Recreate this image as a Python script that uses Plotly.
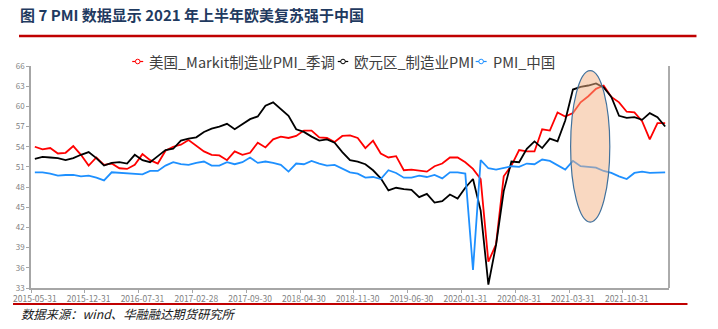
import calendar
import plotly.graph_objects as go

# ---------------- data ----------------
def month_ends(y, m, n):
    out = []
    for _ in range(n):
        out.append(f"{y:04d}-{m:02d}-{calendar.monthrange(y, m)[1]:02d}")
        m += 1
        if m > 12:
            m, y = 1, y + 1
    return out

dates = month_ends(2015, 5, 83)

us_markit = [54.0, 53.6, 53.8, 53.0, 53.1, 54.1, 52.8, 51.2,
             52.4, 51.3, 51.5, 50.8, 50.7, 51.3, 52.9, 52.0, 51.5, 53.4, 54.0, 54.3,
             55.0, 54.2, 53.3, 52.8, 52.7, 52.0, 53.3, 52.8, 53.1, 54.6, 53.9, 55.1,
             55.5, 55.3, 55.6, 56.4, 56.4, 55.4, 55.3, 54.7, 55.6, 55.7, 55.3, 53.8,
             54.9, 53.0, 52.4, 52.6, 50.5, 50.6, 50.4, 50.3, 51.1, 51.5, 52.4, 52.4,
             51.7, 50.7, 49.2, 36.9, 39.5, 49.6, 51.2, 53.5, 53.3, 53.3, 56.6, 56.4,
             59.1, 58.5, 59.0, 60.6, 61.5, 62.6, 63.1, 61.4, 60.6, 59.2, 59.1, 57.8,
             55.1, 57.5, 57.5]

ez_pmi = [52.2, 52.5, 52.4, 52.3, 52.0, 52.3, 52.8, 53.2,
          52.3, 51.2, 51.6, 51.7, 51.5, 52.8, 52.0, 51.7, 52.6, 53.5, 53.7, 54.9,
          55.2, 55.4, 56.2, 56.7, 57.0, 57.4, 56.6, 57.4, 58.1, 58.5, 60.1, 60.6,
          59.6, 58.6, 56.6, 56.2, 55.5, 54.9, 55.1, 54.6, 53.2, 52.0, 51.8, 51.4,
          50.5, 49.3, 47.5, 47.9, 47.7, 47.6, 46.5, 47.0, 45.7, 45.9, 46.9, 46.3,
          47.9, 49.2, 44.5, 33.5, 39.4, 47.4, 51.8, 51.7, 53.7, 54.8, 53.8, 55.2,
          54.8, 57.9, 62.5, 62.9, 63.1, 63.4, 62.8, 61.4, 58.6, 58.3, 58.4, 58.0,
          59.0, 58.4, 57.0]

cn_pmi = [50.2, 50.2, 50.0, 49.7, 49.8, 49.8, 49.6, 49.7,
          49.4, 49.0, 50.2, 50.1, 50.1, 50.0, 49.9, 50.4, 50.4, 51.2, 51.7, 51.4,
          51.3, 51.6, 51.8, 51.2, 51.2, 51.7, 51.4, 51.7, 52.4, 51.6, 51.8, 51.6,
          51.3, 50.3, 51.5, 51.4, 51.9, 51.5, 51.2, 51.3, 50.8, 50.2, 50.0, 49.4,
          49.5, 49.2, 50.5, 50.1, 49.4, 49.4, 49.7, 49.5, 49.8, 49.3, 50.2, 50.2,
          50.0, 35.7, 52.0, 50.8, 50.6, 50.9, 51.1, 51.0, 51.5, 51.4, 52.1, 51.9,
          51.3, 50.6, 51.9, 51.1, 51.0, 50.9, 50.4, 50.1, 49.6, 49.2, 50.1, 50.3,
          50.1, 50.2, 50.2]

series_names = ["美国_Markit制造业PMI_季调", "欧元区_制造业PMI", "PMI_中国"]
series_values = [us_markit, ez_pmi, cn_pmi]
series_colors = ["#FF0000", "#000000", "#1E90FF"]

y_ticks = [33, 36, 39, 42, 45, 48, 51, 54, 57, 60, 63, 66]

title_text = "图 7 PMI 数据显示 2021 年上半年欧美复苏强于中国"
source_text = "数据来源：wind、华融融达期货研究所"

# ---------------- layout helpers ----------------
W, H = 718, 329
PL, PR, PT, PB = 31, 669.5, 66, 288


def px_x(px):
    return (px - PL) / (PR - PL)


def px_y(py):
    return (PB - py) / (PB - PT)


CJK = "Noto Sans CJK SC"

fig = go.Figure()
for name, vals, col in zip(series_names, series_values, series_colors):
    fig.add_trace(go.Scatter(x=dates, y=vals, name=name, mode="lines",
                             line=dict(color=col, width=1.8),
                             showlegend=False))

shapes = []
annotations = []

# title underline & footer line
shapes.append(dict(type="line", xref="paper", yref="paper",
                   x0=px_x(19), x1=px_x(697), y0=px_y(36), y1=px_y(36),
                   line=dict(color="#C00000", width=2.5)))
shapes.append(dict(type="line", xref="paper", yref="paper",
                   x0=px_x(13), x1=px_x(688), y0=px_y(304), y1=px_y(304),
                   line=dict(color="#C00000", width=2.2)))
# right frame line
shapes.append(dict(type="line", xref="paper", yref="paper",
                   x0=1, x1=1, y0=0, y1=1,
                   line=dict(color="#595959", width=1)))

# highlight ellipse (2021 H1)
shapes.append(dict(type="circle", xref="x", yref="y",
                   x0=69.7, x1=74.8, y0=42.8, y1=65.3,
                   fillcolor="rgba(244,177,131,0.5)",
                   line=dict(color="#41719C", width=1.2), layer="above"))

# manual legend
leg_y = 61.5
leg_items = [(132.3, 143.3, 147.0), (338.0, 348.5, 352.7), (476.0, 487.0, 491.7)]
for (lx0, lx1, tx), name, col in zip(leg_items, series_names, series_colors):
    shapes.append(dict(type="line", xref="paper", yref="paper",
                       x0=px_x(lx0), x1=px_x(lx1), y0=px_y(leg_y), y1=px_y(leg_y),
                       line=dict(color=col, width=1.2)))
    shapes.append(dict(type="circle", xref="paper", yref="paper",
                       xsizemode="pixel", ysizemode="pixel",
                       xanchor=px_x((lx0 + lx1) / 2), yanchor=px_y(leg_y),
                       x0=-2.3, x1=2.3, y0=-2.3, y1=2.3,
                       fillcolor="white", line=dict(color=col, width=1)))
    annotations.append(dict(text=name, xref="paper", yref="paper",
                            x=px_x(tx), y=px_y(leg_y), xanchor="left", yanchor="middle",
                            showarrow=False,
                            font=dict(family=CJK, size=14.5, color="#404040")))

annotations.append(dict(text="<i>" + source_text + "</i>", xref="paper", yref="paper",
                        x=px_x(19), y=px_y(313.5), xanchor="left", yanchor="middle",
                        showarrow=False,
                        font=dict(family=CJK, size=12.3, color="#1A1A1A")))

fig.update_layout(
    width=W, height=H,
    margin=dict(l=PL, r=W - PR, t=PT, b=H - PB, pad=0),
    paper_bgcolor="white", plot_bgcolor="white",
    showlegend=False,
    title=dict(text="<b>" + title_text + "</b>", x=20 / W, xanchor="left",
               y=1 - 15.5 / H, yanchor="middle", xref="container", yref="container",
               font=dict(family=CJK, size=15, color="#1F3A60")),
    shapes=shapes,
    annotations=annotations,
    font=dict(family=CJK),
)

fig.update_xaxes(type="category", range=[-0.5, 82.5], tickson="boundaries",
                 dtick=7, tickangle=0, ticks="outside", ticklen=3, tickwidth=1,
                 tickcolor="#A6A6A6", showline=True, linecolor="#A6A6A6", linewidth=1.5,
                 showgrid=False, zeroline=False, ticklabelstandoff=2,
                 tickfont=dict(family=CJK, size=8.5, color="#7F7F7F"))
fig.update_yaxes(range=[33, 66], tickvals=y_ticks, ticks="outside", ticklen=3,
                 tickwidth=1, tickcolor="#A6A6A6", showline=True, linecolor="#A6A6A6",
                 linewidth=1.5, showgrid=False, zeroline=False,
                 tickfont=dict(family=CJK, size=8, color="#7F7F7F"))

fig.write_html("out.html")
